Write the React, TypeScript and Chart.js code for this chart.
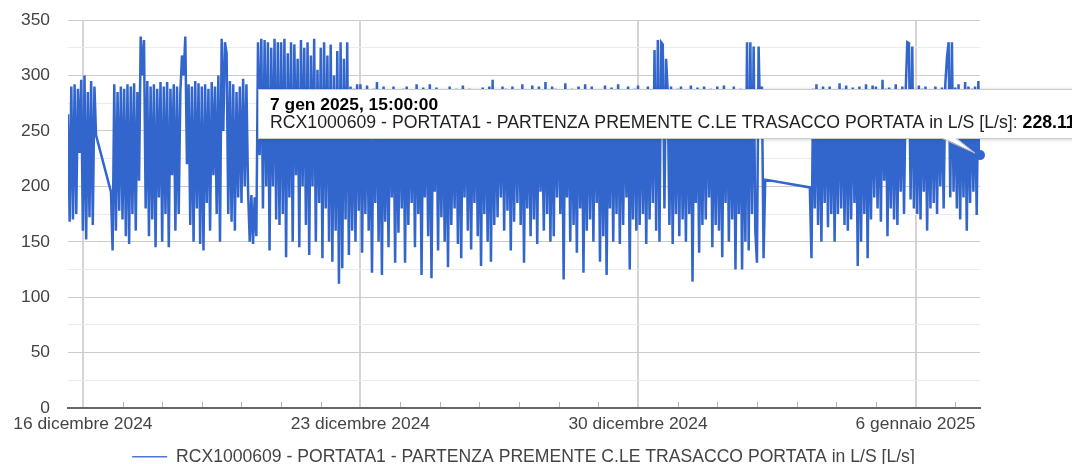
import React, { useEffect, useRef } from 'react';
import { Chart, registerables } from 'chart.js';

Chart.register(...registerables);

const FONT = "'Liberation Sans', Arial, Helvetica, sans-serif";
const SERIES_NAME = 'RCX1000609 - PORTATA1 - PARTENZA PREMENTE C.LE TRASACCO PORTATA in L/S [L/s]';
const TOOLTIP_TITLE = '7 gen 2025, 15:00:00';
const FIRST_SAMPLE = Date.UTC(2024, 11, 15, 15);
const HOUR_MS = 3600000;
const DAY_MS = 86400000;

// Hourly flow [L/s]; null = missing sample
const flowDec15 = [265, 168, 290, 170, 292, 175, 288, 230, 296];
const flowDec16 = [160, 300, 152, 285, 172, 295, 165, 290, 246, null, null, null, null, null, null, null, null, 195, 142, 292, 160, 285, 178, 290];
const flowDec17 = [170, 288, 155, 292, 148, 290, 175, 293, 160, 285, 205, 335, 300, 332, 180, 295, 155, 290, 170, 292, 145, 288, 190, 294];
const flowDec18 = [150, 290, 175, 294, 145, 288, 210, 292, 160, 290, 175, 285, 318, 300, 335, 220, 292, 165, 290, 150, 295, 180, 293, 148];
const flowDec19 = [290, 142, 292, 185, 288, 160, 294, 210, 290, 175, 300, 150, 333, 250, 330, 320, 175, 295, 168, 292, 160, 285, 190, 290];
const flowDec20 = [185, 297, 200, 292, 195, 150, 192, 148, 190, 155, 330, 228, 333, 180, 332, 200, 330, 142, 325, 200, 333, 170, 330, 165];
const flowDec21 = [330, 175, 333, 136, 320, 190, 330, 150, 328, 210, 315, 145, 332, 200, 325, 165, 330, 138, 318, 200, 333, 150, 305, 185];
const flowDec22 = [325, 135, 330, 180, 318, 150, 328, 132, 300, 160, 322, 112, 330, 126, 315, 170, 330, 138, 290, 160, 288, 150, 292, 178];
const flowDec23 = [292, 140, 285, 175, 291, 160, 265, 122, 288, 185, 294, 150, 282, 120, 290, 168, 278, 145, 286, 190, 290, 131, 284, 158];
const flowDec24 = [283, 180, 288, 131, 290, 165, 270, 185, 285, 145, 292, 175, 280, 120, 289, 190, 285, 155, 292, 117, 280, 195, 289, 142];
const flowDec25 = [287, 172, 284, 150, 276, 127, 290, 165, 262, 180, 288, 148, 283, 135, 291, 190, 285, 160, 288, 143, 280, 185, 286, 155];
const flowDec26 = [280, 128, 289, 175, 285, 150, 290, 132, 296, 165, 282, 172, 275, 190, 290, 160, 288, 178, 285, 142, 290, 168, 284, 185];
const flowDec27 = [286, 165, 292, 131, 284, 180, 279, 155, 291, 170, 287, 148, 290, 195, 262, 160, 294, 175, 285, 150, 290, 155, 288, 190];
const flowDec28 = [280, 175, 285, 116, 293, 190, 281, 150, 288, 165, 265, 140, 290, 180, 283, 122, 292, 160, 286, 170, 290, 150, 284, 185];
const flowDec29 = [280, 132, 286, 155, 291, 120, 278, 180, 289, 150, 284, 175, 292, 148, 287, 165, 280, 190, 290, 125, 285, 170, 288, 160];
const flowDec30 = [291, 165, 285, 175, 272, 148, 290, 170, 285, 185, 323, 160, 332, 150, 330, 328, 180, 315, 285, 165, 290, 148, 282, 175];
const flowDec31 = [288, 155, 290, 170, 265, 150, 286, 175, 291, 114, 284, 185, 289, 140, 278, 165, 290, 170, 285, 190, 288, 145, 282, 165];
const flowJan01 = [290, 160, 283, 136, 291, 185, 287, 150, 280, 170, 290, 125, 285, 175, 288, 125, 282, 150, 330, 142, 330, 175, 326, 160];
const flowJan02 = [131, 326, 255, 290, 135, 206, null, null, null, null, null, null, null, null, null, null, null, null, null, null, null, null, null, null];
const flowJan03 = [null, null, null, null, null, null, null, null, 199, 135, 288, 180, 292, 165, 286, 150, 290, 185, 284, 163, 290, 175, 287, 150];
const flowJan04 = [285, 175, 293, 180, 288, 165, 291, 160, 280, 170, 289, 185, 282, 128, 290, 150, 286, 175, 292, 135, 287, 170, 291, 190];
const flowJan05 = [290, 180, 285, 168, 296, 205, 288, 155, 289, 180, 285, 170, 292, 165, 287, 195, 290, 175, 285, 330, 329, 188, 326, 180];
const flowJan06 = [285, 175, 291, 170, 288, 195, 290, 160, 283, 180, 287, 185, 290, 175, 286, 200, 289, 180, 292, 316, 330, 190, 330, 195];
const flowJan07 = [289, 180, 292, 170, 285, 190, 294, 160, 290, 185, 288, 195, 290, 174, 295, 228.11];

const flowValues: (number | null)[] = [
  ...flowDec15, ...flowDec16, ...flowDec17, ...flowDec18, ...flowDec19, ...flowDec20, ...flowDec21,
  ...flowDec22, ...flowDec23, ...flowDec24, ...flowDec25, ...flowDec26, ...flowDec27, ...flowDec28,
  ...flowDec29, ...flowDec30, ...flowDec31, ...flowJan01, ...flowJan02, ...flowJan03, ...flowJan04,
  ...flowJan05, ...flowJan06, ...flowJan07,
];

const majorTickDates = [Date.UTC(2024, 11, 16), Date.UTC(2024, 11, 23), Date.UTC(2024, 11, 30), Date.UTC(2025, 0, 6)];
const majorTickLabels = ['16 dicembre 2024', '23 dicembre 2024', '30 dicembre 2024', '6 gennaio 2025'];
const firstDayTick = Date.UTC(2024, 11, 16);
const lastDayTick = Date.UTC(2025, 0, 7);

const dayTickPlugin = {
  id: 'dayTicks',
  afterDraw(chart: any) {
    const s = chart.scales.x;
    const bottom = chart.chartArea.bottom;
    const ctx = chart.ctx;
    ctx.save();
    ctx.strokeStyle = '#b5b5b5';
    ctx.lineWidth = 1;
    s.ticks.forEach((t: any) => {
      if (majorTickDates.includes(t.value)) return;
      const px = Math.round(s.getPixelForValue(t.value)) + 0.5;
      ctx.beginPath();
      ctx.moveTo(px, bottom - 1);
      ctx.lineTo(px, bottom - 6);
      ctx.stroke();
    });
    ctx.restore();
  },
};

const calloutPlugin = {
  id: 'callout',
  afterDraw(chart: any) {
    const meta = chart.getDatasetMeta(0);
    const pt = meta.data[meta.data.length - 1];
    if (!pt) return;
    const x = pt.x;
    const y = pt.y;
    const ctx = chart.ctx;
    const bx = Math.round(x - 722);
    const by = Math.round(y - 66);
    const bw = 1000;
    const bh = 49;
    ctx.save();
    ctx.shadowColor = 'rgba(0,0,0,0.25)';
    ctx.shadowBlur = 4;
    ctx.shadowOffsetX = 1;
    ctx.shadowOffsetY = 1;
    ctx.fillStyle = '#ffffff';
    ctx.fillRect(bx, by, bw, bh);
    ctx.shadowColor = 'rgba(0,0,0,0)';
    ctx.strokeStyle = '#cccccc';
    ctx.lineWidth = 1;
    ctx.strokeRect(bx + 0.5, by + 0.5, bw, bh);
    // callout wedge
    ctx.beginPath();
    ctx.moveTo(x - 38, by + bh - 0.5);
    ctx.lineTo(x - 5, y - 2);
    ctx.lineTo(x - 24, by + bh - 0.5);
    ctx.closePath();
    ctx.fillStyle = '#ffffff';
    ctx.fill();
    ctx.beginPath();
    ctx.moveTo(x - 38, by + bh + 0.5);
    ctx.lineTo(x - 5, y - 2);
    ctx.lineTo(x - 24, by + bh + 0.5);
    ctx.strokeStyle = '#bbbbbb';
    ctx.stroke();
    // text
    ctx.textBaseline = 'alphabetic';
    ctx.textAlign = 'left';
    ctx.fillStyle = '#000000';
    ctx.font = `bold 17.4px ${FONT}`;
    ctx.fillText(TOOLTIP_TITLE, bx + 12, by + 20.5);
    const value = flowValues[flowValues.length - 1];
    const prefix = SERIES_NAME + ': ';
    ctx.font = `17.7px ${FONT}`;
    ctx.fillStyle = '#222222';
    ctx.fillText(prefix, bx + 12, by + 38.5);
    const w = ctx.measureText(prefix).width;
    ctx.font = `bold 17.7px ${FONT}`;
    ctx.fillStyle = '#000000';
    ctx.fillText(String(value), bx + 12 + w, by + 38.5);
    // hovered point
    ctx.beginPath();
    ctx.arc(x, y, 5, 0, Math.PI * 2);
    ctx.fillStyle = '#3366cc';
    ctx.fill();
    ctx.restore();
  },
};

export default function App() {
  const ref = useRef<HTMLCanvasElement>(null);
  useEffect(() => {
    const points = flowValues.map((v, i) => ({ x: FIRST_SAMPLE + i * HOUR_MS, y: v }));
    const dayTicks: number[] = [];
    for (let t = firstDayTick; t <= lastDayTick; t += DAY_MS) dayTicks.push(t);
    const chart = new Chart(ref.current as HTMLCanvasElement, {
      type: 'line',
      data: {
        datasets: [
          {
            label: SERIES_NAME,
            data: points as any,
            borderColor: '#3366cc',
            backgroundColor: '#3366cc',
            borderWidth: 2.5,
            pointRadius: 0,
            spanGaps: true,
            tension: 0,
            fill: false,
          },
        ],
      },
      options: {
        animation: false,
        responsive: true,
        maintainAspectRatio: false,
        events: [],
        layout: { padding: { left: 0, right: 25, top: 20, bottom: 0 } },
        scales: {
          x: {
            type: 'linear',
            min: points[0].x,
            max: points[points.length - 1].x,
            afterBuildTicks: (s: any) => {
              s.ticks = dayTicks.map((v) => ({ value: v }));
            },
            afterFit: (s: any) => {
              s.height = 38;
              s.paddingLeft = 0;
              s.paddingRight = 0;
            },
            ticks: {
              autoSkip: false,
              maxRotation: 0,
              minRotation: 0,
              padding: 6,
              color: '#444444',
              font: { family: FONT, size: 17.4 },
              callback: (v: any) => {
                const i = majorTickDates.indexOf(Number(v));
                return i >= 0 ? majorTickLabels[i] : '';
              },
            },
            grid: {
              drawTicks: false,
              color: (c: any) => (c.tick && majorTickDates.includes(c.tick.value) ? '#d4d4d4' : 'rgba(0,0,0,0)'),
              lineWidth: 2,
            },
            border: { display: true, color: '#666666', width: 2 },
          },
          y: {
            min: 0,
            max: 350,
            afterFit: (s: any) => {
              s.width = 68;
              s.paddingTop = 0;
              s.paddingBottom = 0;
            },
            ticks: {
              stepSize: 25,
              padding: 18,
              autoSkip: false,
              color: '#444444',
              font: { family: FONT, size: 17.4 },
              callback: (v: any) => (Number(v) % 50 === 0 ? String(v) : ''),
            },
            grid: {
              drawTicks: false,
              color: (c: any) =>
                c.tick.value === 0 ? 'rgba(0,0,0,0)' : c.tick.value % 50 === 0 ? '#cccccc' : '#ebebeb',
              lineWidth: 1,
            },
            border: { display: false },
          },
          yRightSpace: {
            type: 'linear',
            position: 'right',
            display: true,
            min: 0,
            max: 350,
            afterFit: (s: any) => {
              s.width = 67;
              s.paddingTop = 0;
              s.paddingBottom = 0;
            },
            ticks: { display: false },
            grid: { display: false, drawTicks: false },
            border: { display: false },
          },
        },
        plugins: {
          legend: {
            position: 'bottom',
            maxHeight: 18,
            labels: {
              usePointStyle: true,
              pointStyle: 'line',
              pointStyleWidth: 35,
              padding: 2,
              color: '#444444',
              font: { family: FONT, size: 17.6 },
              generateLabels: (c: any) =>
                Chart.defaults.plugins.legend.labels
                  .generateLabels(c)
                  .map((item: any) => ({ ...item, lineWidth: 1.5, strokeStyle: '#4a77d0' })),
            },
          },
          tooltip: { enabled: false },
        },
      } as any,
      plugins: [dayTickPlugin, calloutPlugin],
    });
    return () => chart.destroy();
  }, []);
  return (
    <div style={{ position: 'absolute', left: 0, top: 0, width: 1072, height: 464 }}>
      <canvas ref={ref} />
    </div>
  );
}
